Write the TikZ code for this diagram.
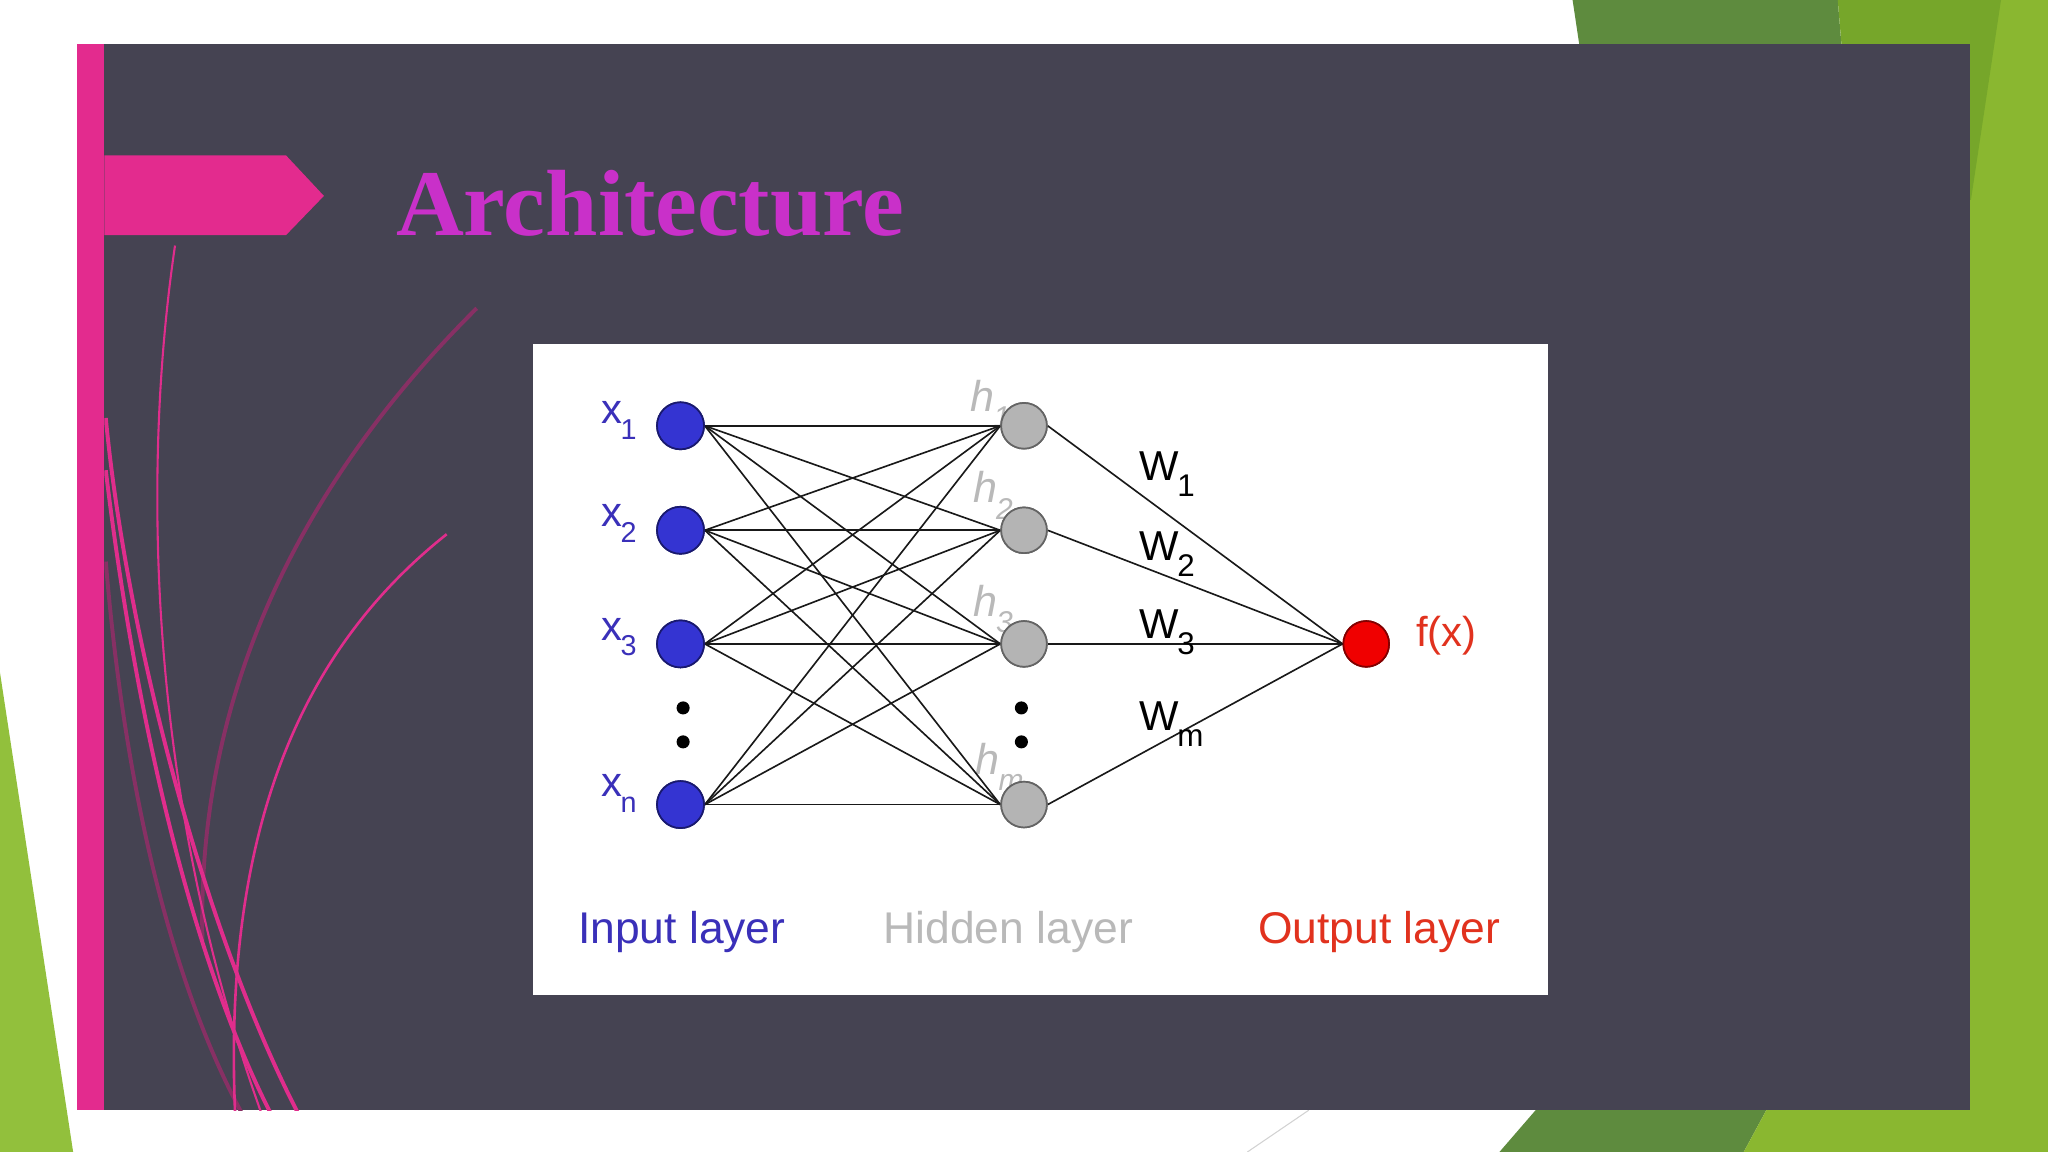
\documentclass[tikz,border=0pt]{standalone}
\usepackage{fontspec}
\setmainfont{Liberation Sans}
\newfontfamily\titlefont{Liberation Serif}
\usetikzlibrary{calc}

\definecolor{panel}{RGB}{69,67,82}
\definecolor{pinkbar}{RGB}{227,43,142}
\definecolor{titlemag}{RGB}{201,48,201}
\definecolor{gdark}{RGB}{94,139,62}
\definecolor{gmid}{RGB}{118,166,42}
\definecolor{glight}{RGB}{138,183,48}
\definecolor{gleft}{RGB}{146,192,60}
\definecolor{nblue}{RGB}{52,52,210}
\definecolor{nbluedk}{RGB}{25,25,110}
\definecolor{tblue}{RGB}{58,48,185}
\definecolor{ngray}{RGB}{180,180,180}
\definecolor{ngraydk}{RGB}{100,100,100}
\definecolor{tgray}{RGB}{185,185,185}
\definecolor{nred}{RGB}{240,0,0}
\definecolor{nreddk}{RGB}{130,0,0}
\definecolor{tred}{RGB}{225,50,30}
\definecolor{curvepink}{RGB}{224,45,140}
\definecolor{curvemuted}{RGB}{135,48,100}

\newcommand\lsub[2]{\kern-1pt\raisebox{-0.38em}{\fontsize{#1}{#1}\selectfont #2}}

\tikzset{
  inp/.style={circle, fill=nblue, draw=nbluedk, line width=1.3pt, minimum size=36pt, inner sep=0pt},
  hid/.style={circle, fill=ngray, draw=ngraydk, line width=1.3pt, minimum size=35pt, inner sep=0pt},
  outn/.style={circle, fill=nred, draw=nreddk, line width=1.3pt, minimum size=35pt, inner sep=0pt},
  dotn/.style={circle, fill=black, minimum size=10pt, inner sep=0pt},
  conn/.style={draw=black!90, line width=1.25pt},
  xlab/.style={anchor=base west, inner sep=0pt, text=tblue, font=\fontsize{32}{32}\selectfont},
  hlab/.style={anchor=base west, inner sep=0pt, text=tgray, font=\itshape\fontsize{33}{33}\selectfont},
  wlab/.style={anchor=base west, inner sep=0pt, text=black, font=\fontsize{32}{32}\selectfont},
  laylab/.style={anchor=base, inner sep=0pt, font=\fontsize{34}{34}\selectfont},
  thickcurve/.style={curvepink, line width=3pt},
  thincurve/.style={curvepink, line width=1.6pt},
  mutedcurve/.style={curvemuted, line width=3pt},
}

\begin{document}
\begin{tikzpicture}[x=1pt,y=-1pt]
\useasboundingbox (0,0) rectangle (1568,882);
\fill[white] (0,0) rectangle (1568,882);

% green decorations
\fill[glight] (1500,0) rectangle (1568,882);
\fill[gdark] (1204,0) -- (1407,0) -- (1412,60) -- (1213,60) -- cycle;
\fill[gmid] (1407,0) -- (1532,0) -- (1509,153) -- (1420,153) -- cycle;
\fill[gdark] (1148,882) -- (1180,845) -- (1355,845) -- (1335,882) -- cycle;
\fill[glight] (1335,882) -- (1355,845) -- (1568,845) -- (1568,882) -- cycle;
\fill[gleft] (0,515) -- (56,882) -- (0,882) -- cycle;
\draw[gray!35, line width=0.8pt] (955,882) -- (1002,850);

% panel
\fill[panel] (59,34) rectangle (1508,850);
\fill[pinkbar] (59,34) rectangle (80,850);
\fill[pinkbar] (80,119) -- (219,119) -- (248,150) -- (219,180) -- (80,180) -- cycle;

% decorative curves
\begin{scope}
\clip (80,34) rectangle (1508,850);
\draw[mutedcurve] (365,236) .. controls (240,360) and (150,520) .. (155,720);
\draw[mutedcurve] (81,430) .. controls (95,600) and (130,750) .. (185,852);
\draw[thickcurve] (81,320) .. controls (95,470) and (150,700) .. (228,852);
\draw[thickcurve] (81,360) .. controls (100,520) and (140,720) .. (207,852);
\draw[thincurve] (134,188) .. controls (110,350) and (110,600) .. (200,852);
\draw[thincurve, line width=2pt] (342,409) .. controls (240,490) and (170,620) .. (180,852);
\end{scope}

% title
\node[anchor=base west, inner sep=0pt, text=titlemag, font=\titlefont\bfseries\fontsize{72}{72}\selectfont] (title) at (303,180) {Architecture};

% white image box
\fill[white] (408,263) rectangle (1185,762);

% hidden labels (behind lines)
\node[hlab] (lh1) at (743,315) {h\lsub{23}{1}};
\node[hlab] (lh2) at (745,385) {h\lsub{23}{2}};
\node[hlab] (lh3) at (745,472) {h\lsub{23}{3}};
\node[hlab] (lhm) at (747,593) {h\lsub{23}{m}};

% nodes
\node[inp] (x1) at (521,326) {};
\node[inp] (x2) at (521,406) {};
\node[inp] (x3) at (521,493) {};
\node[inp] (xn) at (521,616) {};
\node[hid] (h1) at (784,326) {};
\node[hid] (h2) at (784,406) {};
\node[hid] (h3) at (784,493) {};
\node[hid] (hm) at (784,616) {};
\node[outn] (o) at (1046,493) {};

% connectors
\foreach \i in {x1,x2,x3,xn}
  \foreach \j in {h1,h2,h3,hm}
    \draw[conn] (\i.east) -- (\j.west);
\foreach \j in {h1,h2,h3,hm}
  \draw[conn] (\j.east) -- (o.west);

% redraw nodes on top of connectors
\node[inp] at (x1) {};
\node[inp] at (x2) {};
\node[inp] at (x3) {};
\node[inp] at (xn) {};
\node[hid] at (h1) {};
\node[hid] at (h2) {};
\node[hid] at (h3) {};
\node[hid] at (hm) {};
\node[outn] at (o) {};

% dots
\node[dotn] (d1) at (523,542) {};
\node[dotn] (d2) at (523,568) {};
\node[dotn] (d3) at (782,542) {};
\node[dotn] (d4) at (782,568) {};

% input labels
\node[xlab] (lx1) at (460,324) {x\lsub{22}{1}};
\node[xlab] (lx2) at (460,403) {x\lsub{22}{2}};
\node[xlab] (lx3) at (460,490) {x\lsub{22}{3}};
\node[xlab] (lxn) at (460,610) {x\lsub{22}{n}};

% weight labels
\node[wlab] (w1) at (872,368) {W\lsub{24}{1}};
\node[wlab] (w2) at (872,429) {W\lsub{24}{2}};
\node[wlab] (w3) at (872,489) {W\lsub{24}{3}};
\node[wlab] (wm) at (872,559) {W\lsub{24}{m}};

% output label
\node[anchor=base west, inner sep=0pt, text=tred, font=\fontsize{32}{32}\selectfont] (fx) at (1084,495) {f(x)};

% layer labels
\node[laylab, text=tblue] (il) at (522,722) {Input layer};
\node[laylab, text=tgray] (hl) at (772,722) {Hidden layer};
\node[laylab, text=tred] (ol) at (1056,722) {Output layer};
\end{tikzpicture}
\end{document}
